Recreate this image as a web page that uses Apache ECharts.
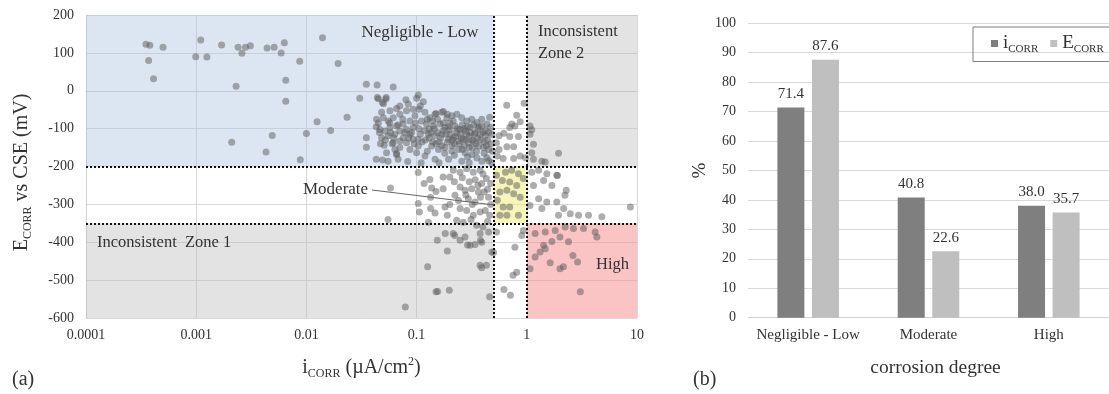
<!DOCTYPE html>
<html>
<head>
<meta charset="utf-8">
<script src="https://cdn.jsdelivr.net/npm/echarts@6/dist/echarts.min.js"></script>
<style>
html, body { margin: 0; padding: 0; background: #fff; }
#chart { width: 1109px; height: 394px; }
</style>
</head>
<body>
<div id="chart"></div>
<script>
// (a) measured points, [iCORR (uA/cm2), ECORR vs CSE (mV)]
var pointsSparse = [
    [0.00035,123],[0.00038,120],[0.0005,115],[0.00037,80],[0.00041,32],
    [0.0011,134],[0.00099,90],[0.00125,89],[0.0017,121],[0.0024,115],[0.0026,99],[0.0028,115],[0.0031,119],
    [0.0023,12],[0.0021,-136],[0.0044,113],[0.0051,115],[0.0063,127],[0.0059,100],[0.0087,78],[0.0065,28],
    [0.0065,-28],[0.0049,-118],[0.0043,-162],[0.0088,-182],[0.01,-113],[0.0125,-82],[0.0166,-105],[0.0234,-70],
    [0.014,140],[0.0194,72],[0.0305,-20],[0.035,17],[0.0438,15],[0.0613,10],[0.035,-124],[0.035,-149]
];
var pointsCluster = [
    [0.08,-24],[0.0705,-40],[0.084,-35],[0.0658,-47],[0.0573,-53],[0.0481,-57],[0.0433,-75],[0.0498,-71],
    [0.0553,-80],[0.0614,-71],[0.0705,-62],[0.081,-53],[0.093,-49],[0.0966,-66],[0.087,-80],[0.0756,-88],
    [0.0658,-93],[0.0573,-97],[0.0516,-106],[0.0465,-102],[0.0481,-124],[0.0553,-119],[0.0636,-115],[0.0705,-106],
    [0.081,-102],[0.093,-97],[0.087,-115],[0.0756,-124],[0.0705,-133],[0.0614,-137],[0.0705,-150],[0.081,-137],
    [0.093,-128],[0.1035,-146],[0.1,-164],[0.087,-155],[0.0636,-155],[0.0658,-168],[0.0534,-164],
    [0.044,-18],[0.053,-18],[0.049,-31],[0.0508,-144],[0.043,-181],[0.049,-183],[0.055,-186],[0.066,-166],
    [0.068,-181],[0.083,-187],[0.045,-21],[0.0526,-22],[0.05,-34],[0.045,-85],[0.046,-110],[0.043,-95],[0.047,-140],
    [0.1035,-11],[0.115,-29],[0.105,-49],[0.119,-57],[0.132,-71],[0.147,-62],[0.169,-57],[0.188,-71],[0.209,-66],
    [0.232,-62],[0.257,-71],[0.286,-80],[0.317,-75],[0.352,-84],[0.391,-93],[0.435,-88],[0.467,-97],[0.111,-80],
    [0.123,-88],[0.142,-93],[0.163,-88],[0.181,-97],[0.201,-102],[0.224,-93],[0.248,-102],[0.276,-106],[0.306,-97],
    [0.34,-111],[0.378,-115],[0.42,-119],[0.128,-115],[0.147,-119],[0.169,-115],[0.195,-128],[0.216,-124],[0.24,-133],
    [0.266,-128],[0.296,-137],[0.329,-133],[0.365,-146],[0.405,-150],[0.451,-155],[0.137,-146],[0.158,-155],[0.181,-150],
    [0.209,-159],[0.24,-155],[0.276,-164],[0.317,-168],[0.352,-177],[0.391,-186],[0.119,-172],[0.147,-181],[0.195,-181],
    [0.257,-186],[0.435,-177],[0.1035,-128],
    [0.1,-20],[0.108,-40],[0.15,-60],[0.175,-55],[0.19,-62],[0.3,-120],[0.36,-100],[0.44,-130],[0.48,-115],[0.47,-140],
    [0.41,-165],[0.45,-185],[0.32,-150],[0.27,-145],[0.22,-140],[0.16,-135],[0.13,-100],[0.12,-130],[0.175,-105],
    [0.26,-90],[0.2,-85],[0.33,-90],[0.38,-130],[0.23,-110],[0.285,-115],[0.155,-75],[0.14,-80],[0.21,-145],[0.35,-160],
    [0.29,-175],[0.22,-170],[0.18,-165],[0.125,-160],[0.11,-190],[0.16,-190],[0.3,-190],[0.48,-190],[0.49,-160],
    [0.42,-105],[0.39,-75],[0.46,-70],
    [0.058,-110],[0.062,-125],[0.068,-90],[0.075,-75],[0.078,-110],[0.085,-125],[0.09,-110],[0.095,-140],[0.098,-85],
    [0.105,-100],[0.108,-115],[0.112,-135],[0.118,-105],[0.125,-75],[0.13,-125],[0.135,-110],[0.14,-135],[0.145,-100],
    [0.15,-140],[0.155,-110],[0.165,-125],[0.17,-145],[0.175,-85],[0.185,-115],[0.19,-135],[0.195,-95],[0.2,-115],
    [0.21,-130],[0.215,-80],[0.225,-120],[0.235,-100],[0.245,-140],[0.25,-115],[0.255,-125],[0.26,-155],[0.27,-100],
    [0.28,-130],[0.29,-95],[0.3,-150],[0.31,-110],[0.32,-130],[0.335,-115],[0.345,-140],[0.36,-125],[0.37,-95],
    [0.4,-110],[0.41,-135],[0.43,-145],[0.45,-110],[0.06,-140],[0.052,-130],[0.057,-85]
];
var pointsColumn = [
    [0.658,-38],[0.946,-33],[0.81,-65],[0.73,-88],[0.87,-82],[0.7,-97],[0.78,-93],[0.62,-112],[0.7,-121],[0.84,-121],
    [0.66,-148],[0.76,-148],[0.56,-155],[0.61,-179],[0.76,-179],[0.87,-172],[0.97,-177],[0.53,-137],[0.54,-172],[0.56,-119],
    [0.53,-223],[0.64,-215],[0.73,-210],[0.84,-219],[0.6,-237],[0.7,-241],[0.81,-250],[0.57,-267],[0.66,-263],[0.76,-272],
    [0.87,-281],[0.54,-289],[0.61,-307],[0.7,-307],[0.57,-329],[0.66,-329],[0.84,-329],[0.93,-232],
    [0.53,-373],[0.78,-413],[0.9,-382],[0.75,-487],[0.81,-479],[0.71,-540],[0.62,-525],[0.93,-369]
];
var pointsLower = [
    [0.058,-257],[0.055,-340],[0.1035,-216],[0.117,-245],[0.132,-234],[0.137,-257],[0.15,-266],[0.134,-281],[0.1035,-298],
    [0.106,-320],[0.134,-311],[0.147,-323],[0.128,-347],[0.174,-259],[0.181,-307],[0.19,-329],[0.223,-276],[0.248,-254],
    [0.174,-228],[0.2,-228],[0.215,-210],[0.248,-215],[0.285,-206],[0.327,-215],[0.377,-210],[0.275,-263],[0.316,-259],
    [0.363,-267],[0.295,-285],[0.339,-294],[0.38,-281],[0.248,-311],[0.285,-316],[0.327,-329],[0.377,-320],[0.231,-342],
    [0.265,-347],[0.312,-340],[0.39,-245],[0.43,-232],[0.41,-267],[0.45,-281],[0.42,-316],[0.46,-329],
    [0.22,-240],[0.26,-230],[0.3,-240],[0.34,-235],[0.36,-250],[0.4,-220],[0.44,-260],[0.47,-245],[0.28,-275],
    [0.32,-300],[0.24,-290],[0.47,-300],[0.44,-345],[0.2,-300],
    [0.35,-355],[0.154,-395],[0.182,-377],[0.215,-377],[0.222,-382],[0.248,-395],[0.275,-386],[0.306,-408],[0.339,-406],
    [0.377,-377],[0.38,-395],[0.19,-423],[0.126,-465],[0.377,-461],[0.39,-467],[0.15,-531],[0.155,-530],[0.198,-527],
    [0.079,-571],[0.4,-360],[0.45,-373],[0.39,-400],[0.48,-426],[0.43,-461],[0.46,-544],[0.5,-427],[0.29,-407]
];
var pointsRight = [
    [1.07,-93],[1.11,-103],[1.07,-115],[1.15,-141],[1.11,-164],[1.37,-186],[1.47,-188],[1.94,-165],[1.15,-181],
    [1.9,-224],[1.11,-215],[1.28,-210],[1.52,-219],[1.87,-223],[1.42,-237],[1.15,-250],[1.69,-250],[2.28,-263],
    [2.22,-276],[1.28,-285],[1.52,-294],[1.07,-303],[1.37,-311],[1.94,-329],[2.16,-311],[2.48,-325],[2.95,-329],
    [3.63,-329],[4.8,-333],[8.7,-307],[1.87,-294],
    [1.19,-377],[1.47,-373],[1.81,-369],[2.23,-360],[2.65,-364],[3.27,-364],[4.17,-373],[4.32,-386],[2.0,-386],
    [1.69,-398],[2.39,-399],[1.42,-408],[1.32,-426],[1.19,-439],[1.47,-417],[1.63,-454],[2.0,-470],[2.15,-465],
    [2.62,-435],[2.89,-452],[3.06,-531],[1.07,-470]
];

// zone limits
var iLimits = [0.5, 1];
var eLimits = [-200, -350];

// (b) share of each corrosion degree, %
var categories = ['Negligible - Low', 'Moderate', 'High'];
var icorrPct = [71.4, 40.8, 38.0];
var ecorrPct = [87.6, 22.6, 35.7];

var SERIF = '"Liberation Serif", "Times New Roman", serif';
var TXT = '#333';

var subRich = {
    m: { fontFamily: SERIF, fontSize: 20, color: TXT, lineHeight: 24 },
    s: { fontFamily: SERIF, fontSize: 12, color: TXT, verticalAlign: 'bottom', lineHeight: 13 },
    p: { fontFamily: SERIF, fontSize: 12, color: TXT, verticalAlign: 'top', lineHeight: 13 }
};
var legendRich = {
    m: { fontFamily: SERIF, fontSize: 19, color: TXT, lineHeight: 22 },
    s: { fontFamily: SERIF, fontSize: 11, color: TXT, verticalAlign: 'bottom', lineHeight: 12 }
};

function zone(x0, y0, x1, y1, color) {
    return [{ xAxis: x0, yAxis: y0, itemStyle: { color: color } }, { xAxis: x1, yAxis: y1 }];
}

function note(text, x, y, align, size) {
    return {
        type: 'text', x: x, y: y, z: 100,
        style: { text: text, font: size + 'px ' + SERIF, fill: TXT, align: align, verticalAlign: 'middle' }
    };
}

var allPoints = pointsSparse.concat(pointsCluster, pointsColumn, pointsLower, pointsRight);

var chart = echarts.init(document.getElementById('chart'));
var option = {
    animation: false,
    grid: [
        { left: 86, top: 15, width: 551, height: 303 },
        { left: 748, top: 23.3, width: 367, height: 294.4 }
    ],
    legend: {
        data: ['iCORR', 'ECORR'],
        orient: 'horizontal',
        left: 973, top: 27, width: 170,
        padding: [7, 12, 7, 18],
        borderColor: '#7f7f7f', borderWidth: 1,
        itemWidth: 7, itemHeight: 7, itemGap: 12,
        icon: 'rect',
        formatter: function (n) { return n == 'iCORR' ? '{m|i}{s|CORR}' : '{m|E}{s|CORR}'; },
        textStyle: { rich: legendRich }
    },
    xAxis: [
        {
            type: 'log', gridIndex: 0, logBase: 10, min: 0.0001, max: 10,
            axisLine: { lineStyle: { color: '#d0d0d0' } },
            axisTick: { show: false },
            splitLine: { lineStyle: { color: '#d9d9d9' } },
            axisLabel: {
                fontFamily: SERIF, fontSize: 14, color: TXT, margin: 10,
                formatter: function (v) { return String(parseFloat(v.toPrecision(6))); }
            },
            name: '{m|i}{s|CORR}{m| (µA/cm}{p|2}{m|)}',
            nameLocation: 'middle', nameGap: 38,
            nameTextStyle: { rich: subRich }
        },
        {
            type: 'category', gridIndex: 1, data: categories,
            axisLine: { lineStyle: { color: '#d0d0d0' } },
            axisTick: { show: false },
            axisLabel: { fontFamily: SERIF, fontSize: 15, color: TXT, margin: 10, interval: 0 },
            name: 'corrosion degree', nameLocation: 'middle', nameGap: 40,
            nameTextStyle: { fontFamily: SERIF, fontSize: 19.5, color: TXT, padding: [0, 0, 0, 14] }
        }
    ],
    yAxis: [
        {
            type: 'value', gridIndex: 0, min: -600, max: 200, interval: 100,
            axisLine: { show: true, lineStyle: { color: '#d0d0d0' } },
            axisTick: { show: false },
            splitLine: { lineStyle: { color: '#d9d9d9' } },
            axisLabel: { fontFamily: SERIF, fontSize: 14, color: TXT, margin: 12 },
            name: '{m|E}{s|CORR}{m| vs CSE (mV)}',
            nameLocation: 'middle', nameRotate: 90, nameGap: 52,
            nameTextStyle: { rich: subRich, padding: [0, 12, 0, 0] }
        },
        {
            type: 'value', gridIndex: 1, min: 0, max: 100, interval: 10,
            axisLine: { show: false },
            axisTick: { show: false },
            splitLine: { lineStyle: { color: '#d9d9d9' } },
            axisLabel: { fontFamily: SERIF, fontSize: 14, color: TXT, margin: 12 },
            name: '%', nameLocation: 'middle', nameRotate: 90, nameGap: 38,
            nameTextStyle: { fontFamily: SERIF, fontSize: 19, color: TXT }
        }
    ],
    series: [
        {
            name: 'zones', type: 'scatter', xAxisIndex: 0, yAxisIndex: 0, z: 1,
            data: [], silent: true,
            markArea: {
                silent: true,
                data: [
                    zone(0.0001, 200, iLimits[0], eLimits[0], 'rgba(168,193,223,0.4)'),
                    zone(iLimits[1], 200, 10, eLimits[0], 'rgba(185,185,185,0.4)'),
                    zone(0.0001, eLimits[1], iLimits[0], -600, 'rgba(185,185,185,0.4)'),
                    zone(iLimits[1], eLimits[1], 10, -600, 'rgba(247,137,137,0.5)'),
                    zone(iLimits[0], eLimits[0], iLimits[1], eLimits[1], 'rgba(237,237,119,0.5)')
                ]
            }
        },
        {
            name: 'points', type: 'scatter', xAxisIndex: 0, yAxisIndex: 0, z: 3,
            data: allPoints,
            symbolSize: 7,
            itemStyle: { color: 'rgba(90,90,90,0.62)' }
        },
        {
            name: 'limits', type: 'scatter', xAxisIndex: 0, yAxisIndex: 0, z: 5,
            data: [],
            markLine: {
                silent: true, symbol: 'none',
                label: { show: false },
                lineStyle: { type: 'dotted', color: '#111', width: 2 },
                data: [
                    { xAxis: iLimits[0] }, { xAxis: iLimits[1] },
                    { yAxis: eLimits[0] }, { yAxis: eLimits[1] }
                ]
            }
        },
        {
            name: 'iCORR', type: 'bar', xAxisIndex: 1, yAxisIndex: 1,
            data: icorrPct, barWidth: 27, barGap: '28%',
            itemStyle: { color: '#7f7f7f' },
            label: {
                show: true, position: 'top', distance: 6,
                fontFamily: SERIF, fontSize: 15, color: TXT,
                formatter: function (p) { return p.value.toFixed(1); }
            }
        },
        {
            name: 'ECORR', type: 'bar', xAxisIndex: 1, yAxisIndex: 1,
            data: ecorrPct, barWidth: 27,
            itemStyle: { color: '#bfbfbf' },
            label: {
                show: true, position: 'top', distance: 6,
                fontFamily: SERIF, fontSize: 15, color: TXT,
                formatter: function (p) { return p.value.toFixed(1); }
            }
        }
    ],
    graphic: [
        note('Negligible - Low', 420, 33, 'center', 17),
        note('Inconsistent', 538, 32, 'left', 16.5),
        note('Zone 2', 538, 54, 'left', 16.5),
        note('Inconsistent  Zone 1', 97, 243, 'left', 16.5),
        note('High', 629, 265, 'right', 16.5),
        note('Moderate', 303, 190, 'left', 17),
        { type: 'line', z: 100, shape: { x1: 372, y1: 190, x2: 494, y2: 205 }, style: { stroke: '#666', lineWidth: 1 } },
        note('(a)', 12, 380, 'left', 20),
        note('(b)', 693, 380, 'left', 20)
    ]
};
chart.setOption(option);
</script>
</body>
</html>
